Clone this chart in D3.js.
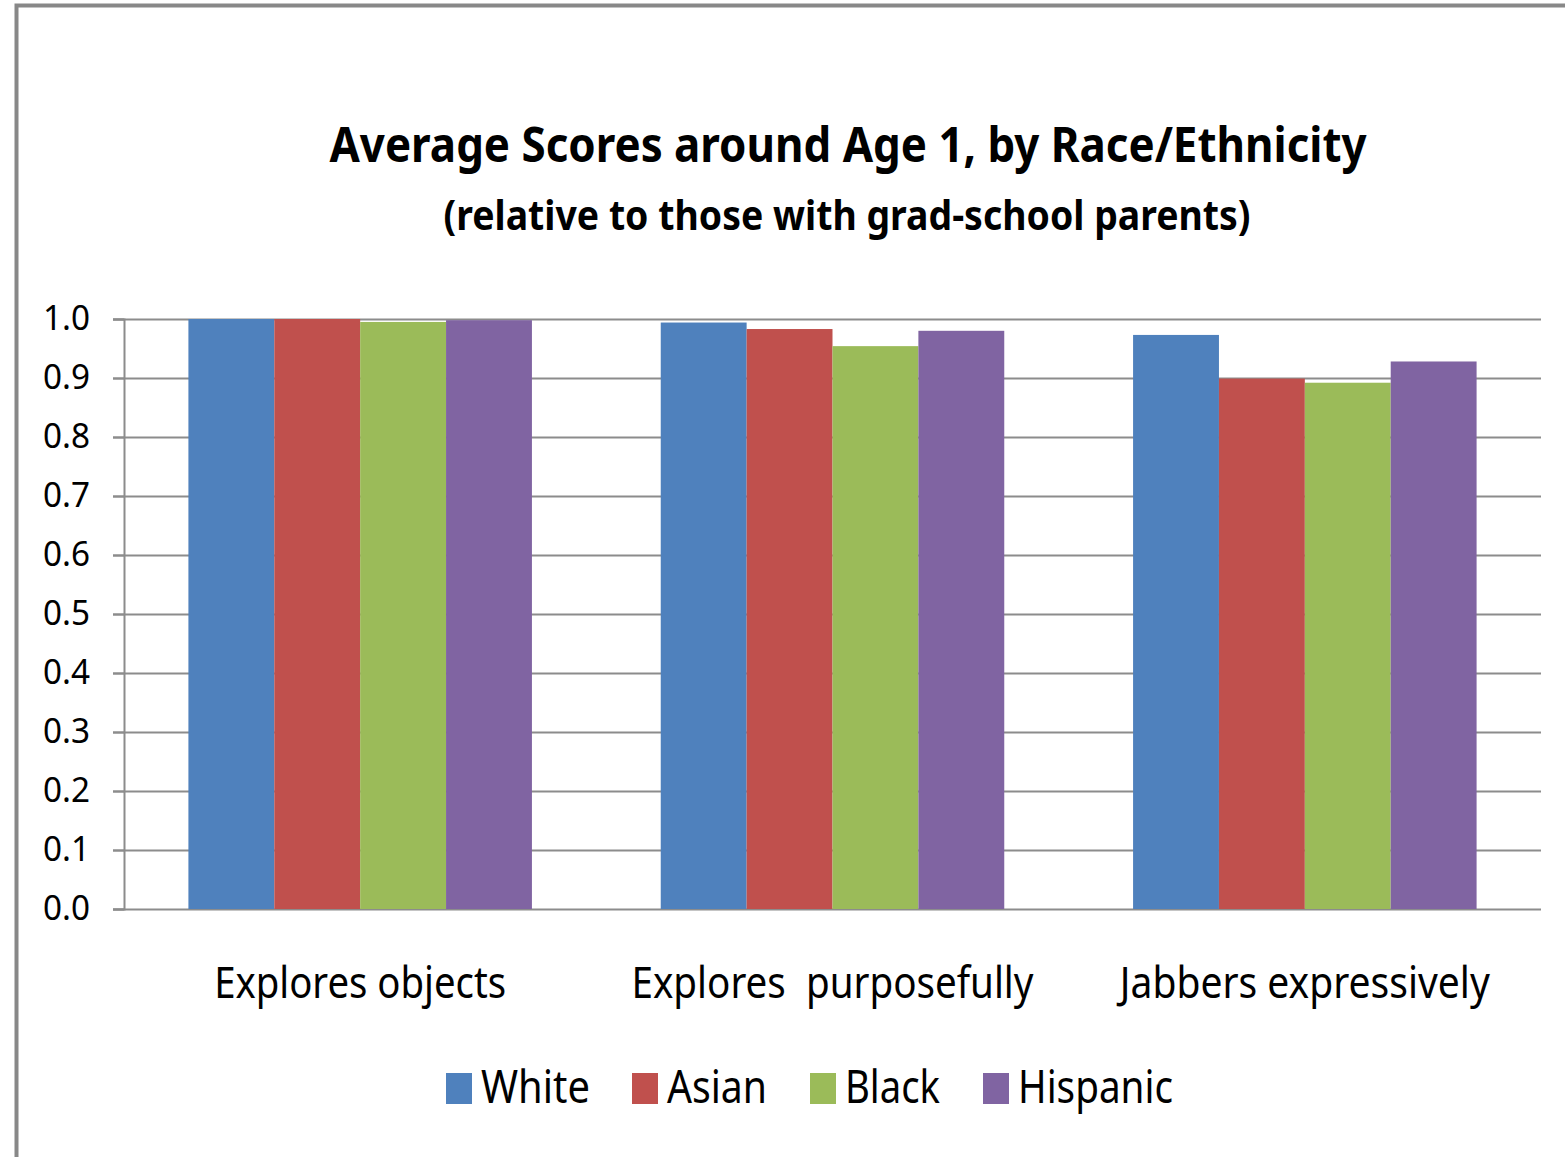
<!DOCTYPE html>
<html>
<head>
<meta charset="utf-8">
<script src="https://cdn.jsdelivr.net/npm/d3@7"></script>
<style>
  body { margin: 0; background: #fff; }
  text { font-family: "Noto Sans", sans-serif; fill: #000; }
</style>
</head>
<body>
<div id="chart"></div>
<script>
// data
const categories = ["Explores objects", "Explores  purposefully", "Jabbers expressively"];
const groups = ["White", "Asian", "Black", "Hispanic"];
const white = [1.0, 0.994, 0.973];
const asian = [1.0, 0.983, 0.899];
const black = [0.995, 0.954, 0.892];
const hispanic = [0.998, 0.980, 0.928];
const yTicks = [0, 0.1, 0.2, 0.3, 0.4, 0.5, 0.6, 0.7, 0.8, 0.9, 1.0];
const colors = ["#4F81BD", "#C0504D", "#9BBB59", "#8064A2"];

const series = [white, asian, black, hispanic];
const rows = categories.map((c, i) => ({cat: c, vals: groups.map((g, j) => ({g: g, v: series[j][i]}))}));

const W = 1565, H = 1157;
const plot = {left: 124, right: 1541, top: 319, bottom: 909};

const svg = d3.select("#chart").append("svg")
    .attr("width", W).attr("height", H);

// outer frame (only left and top edges visible in the crop)
svg.append("path")
    .attr("d", "M16.5," + H + "V5.5H" + W)
    .attr("fill", "none").attr("stroke", "#888").attr("stroke-width", 4);

// titles -- squeezed to the narrow widths of the original font
svg.append("text").attr("x", 848).attr("y", 162)
    .attr("text-anchor", "middle").attr("font-weight", "bold").attr("font-size", 48)
    .attr("textLength", 1037).attr("lengthAdjust", "spacingAndGlyphs")
    .text("Average Scores around Age 1, by Race/Ethnicity");
svg.append("text").attr("x", 847).attr("y", 230)
    .attr("text-anchor", "middle").attr("font-weight", "bold").attr("font-size", 41)
    .attr("textLength", 807).attr("lengthAdjust", "spacingAndGlyphs")
    .text("(relative to those with grad-school parents)");

const x0 = d3.scaleBand().domain(categories).range([plot.left, plot.right]).paddingInner(0).paddingOuter(0);
const x1 = d3.scaleBand().domain(groups).range([0, x0.bandwidth()]).paddingInner(0).paddingOuter(0.75);
const y = d3.scaleLinear().domain([0, 1]).range([plot.bottom, plot.top]);

// gridlines
svg.append("g").selectAll("line").data(yTicks).enter().append("line")
    .attr("x1", plot.left - 11).attr("x2", plot.right)
    .attr("y1", d => Math.round(y(d)) + 0.5).attr("y2", d => Math.round(y(d)) + 0.5)
    .attr("stroke", "#8c8c8c").attr("stroke-width", 2);

// bars
const g = svg.append("g").selectAll("g").data(rows).enter().append("g")
    .attr("transform", d => "translate(" + x0(d.cat) + ",0)");
g.selectAll("rect").data(d => d.vals).enter().append("rect")
    .attr("x", d => x1(d.g)).attr("width", x1.bandwidth())
    .attr("y", d => y(d.v)).attr("height", d => y(0) - y(d.v))
    .attr("fill", (d, i) => colors[i]);

// y axis
const yAxis = svg.append("g").attr("transform", "translate(" + plot.left + ",0)")
    .call(d3.axisLeft(y).tickValues(yTicks).tickFormat(d3.format(".1f")).tickSize(11).tickPadding(23));
yAxis.select(".domain").attr("stroke", "#8c8c8c").attr("stroke-width", 2);
yAxis.selectAll(".tick line").attr("stroke", "#8c8c8c").attr("stroke-width", 2);
yAxis.selectAll(".tick text").attr("font-size", 34).attr("font-family", "Noto Sans, sans-serif")
    .attr("fill", "#000").attr("textLength", 47).attr("lengthAdjust", "spacingAndGlyphs");

// category labels
const catWidths = [292, 402, 370];
svg.append("g").selectAll("text").data(categories).enter().append("text")
    .attr("x", d => x0(d) + x0.bandwidth() / 2).attr("y", 998)
    .attr("text-anchor", "middle").attr("font-size", 44)
    .attr("textLength", (d, i) => catWidths[i]).attr("lengthAdjust", "spacingAndGlyphs")
    .style("white-space", "pre")
    .text(d => d);

// legend
const legendX = [446, 632, 810, 983];
const legendW = [109, 100, 95, 155];
const leg = svg.append("g").selectAll("g").data(groups).enter().append("g")
    .attr("transform", (d, i) => "translate(" + legendX[i] + ",1073)");
leg.append("rect").attr("width", 26).attr("height", 31).attr("fill", (d, i) => colors[i]);
leg.append("text").attr("x", 35).attr("y", 30).attr("font-size", 46)
    .attr("textLength", (d, i) => legendW[i]).attr("lengthAdjust", "spacingAndGlyphs")
    .text(d => d);
</script>
</body>
</html>
